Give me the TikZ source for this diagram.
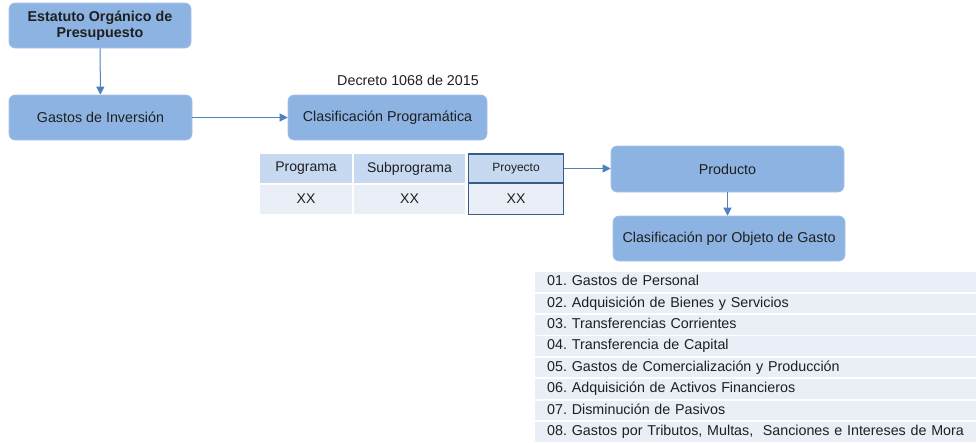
\documentclass[tikz,border=0pt]{standalone}
\usepackage{fontspec}
\setmainfont{Liberation Sans}
\usepackage{xcolor}
\usetikzlibrary{arrows.meta}
\definecolor{boxblue}{HTML}{8DB3E2}
\definecolor{arrowblue}{HTML}{4F81BD}
\definecolor{headblue}{HTML}{C6D9F1}
\definecolor{rowblue}{HTML}{E9EEF7}
\definecolor{edgeblue}{HTML}{385D8A}
\frenchspacing

\begin{document}
\begin{tikzpicture}[x=1pt, y=-1pt,
    every node/.style={inner sep=1pt, text=black!88, font=\fontsize{14.3}{16.5}\selectfont},
    mainbox/.style={rectangle, rounded corners=6pt, fill=boxblue, draw=boxblue!80!white, line width=0.6pt, align=center},
    headcell/.style={rectangle, fill=headblue, minimum height=29pt, font=\fontsize{14}{16}\selectfont},
    datacell/.style={rectangle, fill=rowblue, minimum height=29pt, font=\fontsize{14}{16}\selectfont},
    listrow/.style={rectangle, anchor=north west, fill=rowblue, minimum height=19.5pt, text width=417pt, text height=10.5pt, text depth=3pt, inner xsep=12pt, inner ysep=0pt, align=left},
    flow/.style={draw=arrowblue, line width=1pt, -{Triangle[length=8pt, width=8pt]}}
]
\useasboundingbox (0,0) rectangle (976,442);
\node[mainbox, minimum width=182pt, minimum height=45pt, font=\fontsize{14.3}{16}\selectfont\bfseries] (estatuto) at (100,25.5) {Estatuto Orgánico de\\Presupuesto};
\node[mainbox, minimum width=183pt, minimum height=45pt] (inversion) at (100.5,117.5) {Gastos de Inversión};
\node[mainbox, minimum width=199pt, minimum height=45pt] (programatica) at (387.5,117.5) {Clasificación Programática};
\node (decreto) at (408,80) {Decreto 1068 de 2015};
% tabla
\node[headcell, minimum width=92pt] (programa) at (306,168.5) {Programa};
\node[headcell, minimum width=111pt] (subprograma) at (409.5,168.5) {Subprograma};
\node[headcell, minimum width=95pt, draw=edgeblue, line width=1.5pt, font=\fontsize{12}{14}\selectfont] (proyecto) at (516,168.5) {Proyecto};
\node[datacell, minimum width=92pt] (xxa) at (306,199) {XX};
\node[datacell, minimum width=111pt] (xxb) at (409.5,199) {XX};
\node[datacell, minimum width=95pt, minimum height=31pt, draw=edgeblue, line width=1.5pt] (xxc) at (516,199) {XX};
\node[mainbox, minimum width=233pt, minimum height=46pt] (producto) at (727.5,169) {Producto};
\node[mainbox, minimum width=232pt, minimum height=45pt] (objeto) at (729,238.5) {Clasificación por Objeto de Gasto};
% objeto de gasto
\foreach \i/\txt in {1/{01. Gastos de Personal}, 2/{02. Adquisición de Bienes y Servicios}, 3/{03. Transferencias Corrientes}, 4/{04. Transferencia de Capital}, 5/{05. Gastos de Comercialización y Producción}, 6/{06. Adquisición de Activos Financieros}, 7/{07. Disminución de Pasivos}, 8/{08. Gastos por Tributos, Multas, \ Sanciones e Intereses de Mora}}
    \node[listrow] (item\i) at (535,{272+21.43*(\i-1)}) {\txt};
\draw[flow] (estatuto) -- (inversion);
\draw[flow] (inversion) -- (programatica);
\draw[flow] (proyecto.east) -- (proyecto.east -| producto.west);
\draw[flow] (producto.south) -- (producto.south |- objeto.north);
\end{tikzpicture}
\end{document}
